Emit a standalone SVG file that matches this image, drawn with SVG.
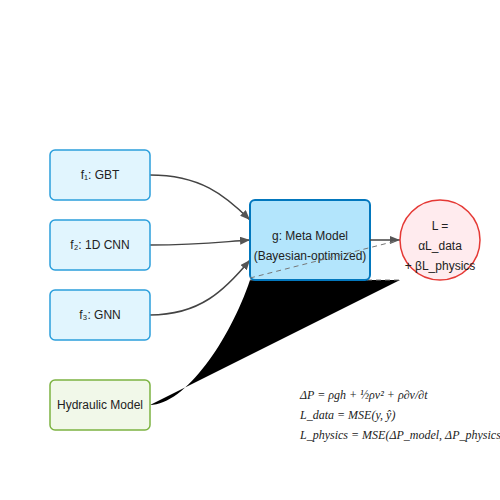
<svg xmlns="http://www.w3.org/2000/svg" width="500" height="500" viewBox="0 0 500 500">
<style>
.t{font-family:"Liberation Sans",Arial,sans-serif;font-size:12px;fill:#222;text-anchor:middle}
.base{fill:#e1f5fe;stroke:#2b9fdc;stroke-width:1.5}
.hyd{fill:#f1f8e9;stroke:#7cb342;stroke-width:1.5}
.meta{fill:#b3e5fc;stroke:#0277bd;stroke-width:2}
.loss{fill:#ffebee;stroke:#e53935;stroke-width:1.5}
.edge{fill:none;stroke:#444;stroke-width:1.5}
.eq{font-family:"Liberation Serif","Times New Roman",serif;font-style:italic;font-size:12px;fill:#222}
</style>
<defs>
<marker id="ah" markerUnits="userSpaceOnUse" markerWidth="10" markerHeight="8" refX="10" refY="4" orient="auto">
<path d="M0,0 L10,4 L0,8 Z" fill="#555"/>
</marker>
</defs>
<rect width="500" height="500" fill="#fff"/>
<g id="connectors">
<path class="edge" d="M150,175 C200,175 225,195 250,220" marker-end="url(#ah)"/>
<path class="edge" d="M150,245 C200,245 220,242 250,240" marker-end="url(#ah)"/>
<path class="edge" d="M150,315 C200,315 225,290 250,260" marker-end="url(#ah)"/>
<path d="M150,405 C185,405 230,340 250,280 L400,280 Z" fill="#000" stroke="none"/>
<path d="M250,280 L400,280" fill="none" stroke="#777" stroke-width="1" stroke-dasharray="5,4"/>
</g>
<g id="f1"><rect class="base" x="50" y="150" width="100" height="50" rx="5"/><text class="t" x="100" y="179">f₁: GBT</text></g>
<g id="f2"><rect class="base" x="50" y="220" width="100" height="50" rx="5"/><text class="t" x="100" y="249">f₂: 1D CNN</text></g>
<g id="f3"><rect class="base" x="50" y="290" width="100" height="50" rx="5"/><text class="t" x="100" y="319">f₃: GNN</text></g>
<g id="hydraulic"><rect class="hyd" x="50" y="380" width="100" height="50" rx="5"/><text class="t" x="100" y="409">Hydraulic Model</text></g>
<g id="meta"><rect class="meta" x="250" y="200" width="120" height="80" rx="5"/><text class="t" x="310" y="240">g: Meta Model</text><text class="t" x="310" y="260">(Bayesian-optimized)</text></g>
<g id="connectors2">
<path class="edge" d="M370,240 L400,240" stroke-width="2" marker-end="url(#ah)"/>
<path d="M250,278 L400,240" fill="none" stroke="#777" stroke-width="1" stroke-dasharray="5,4"/>
</g>
<g id="loss"><circle class="loss" cx="440" cy="240" r="40"/><text class="t" x="440" y="230">L =</text><text class="t" x="440" y="250">αL_data</text><text class="t" x="440" y="270">+ βL_physics</text></g>
<g id="equations">
<text class="eq" x="300" y="399">ΔP = ρgh + ½ρv² + ρ∂v/∂t</text>
<text class="eq" x="300" y="419">L_data = MSE(y, ŷ)</text>
<text class="eq" x="300" y="439">L_physics = MSE(ΔP_model, ΔP_physics)</text>
</g>
</svg>
